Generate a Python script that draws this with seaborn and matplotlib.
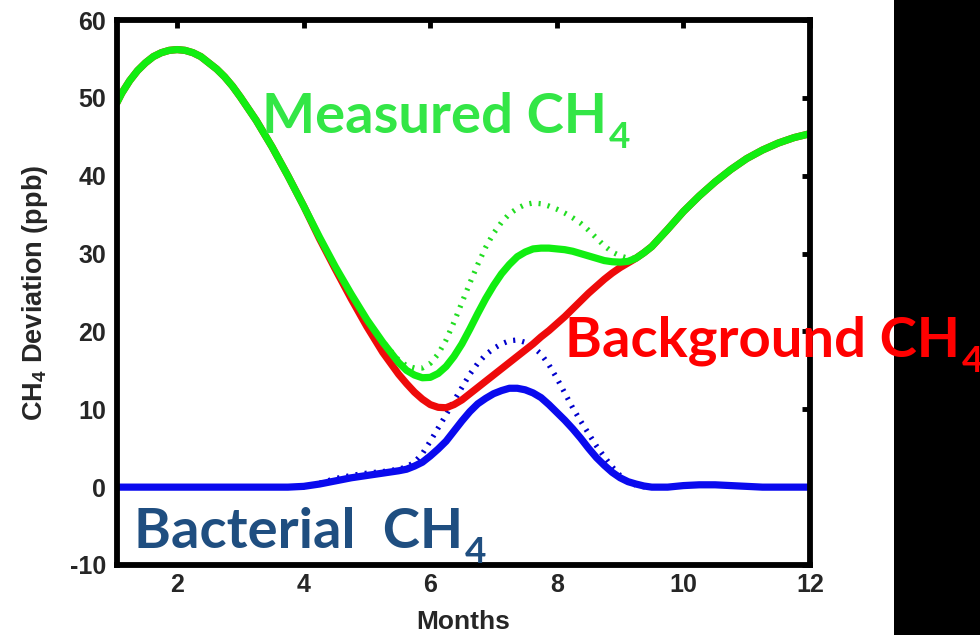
import matplotlib
matplotlib.use("Agg")
import matplotlib.pyplot as plt
from matplotlib.patches import Rectangle
import pandas as pd
import seaborn as sns

# Month positions shared by all series (denser where the curves bend)
months = [1.05, 1.125, 1.25, 1.375, 1.5, 1.625, 1.75, 1.875, 2.0, 2.125, 2.25, 2.375,
          2.5, 2.625, 2.75, 2.875, 3.0,
          3.25, 3.5, 3.75, 4.0, 4.25, 4.5, 4.75, 5.0, 5.25,
          5.5, 5.625, 5.75, 5.875, 6.0, 6.125, 6.25, 6.375, 6.5, 6.625, 6.75, 6.875,
          7.0, 7.125, 7.25, 7.375, 7.5, 7.625, 7.75, 7.875, 8.0, 8.125, 8.25, 8.375,
          8.5, 8.625, 8.75, 8.875, 9.0, 9.125, 9.25, 9.375, 9.5,
          9.75, 10.0, 10.25, 10.5, 10.75, 11.0, 11.25, 11.5, 11.75, 12.0]

# Measured CH4 (solid green)
measured = [49.4, 50.6, 52.2, 53.5, 54.5, 55.3, 55.8, 56.1, 56.2, 56.1, 55.8, 55.3,
            54.5, 53.7, 52.7, 51.5, 50.1,
            47.1, 43.7, 40.0, 36.1, 32.1, 28.3, 24.8, 21.5, 18.6,
            16.0, 15.0, 14.4, 14.05, 14.1, 14.6, 15.5, 16.8, 18.4, 20.3, 22.3, 24.2,
            25.9, 27.4, 28.6, 29.6, 30.2, 30.6, 30.7, 30.7, 30.6, 30.5, 30.3, 30.0,
            29.7, 29.4, 29.1, 28.95, 28.9, 29.0, 29.4, 30.1, 30.9,
            33.1, 35.4, 37.4, 39.2, 40.8, 42.2, 43.3, 44.2, 44.9, 45.4]

# Measured CH4, dotted variant
measured_dotted = [49.4, 50.6, 52.2, 53.5, 54.5, 55.3, 55.8, 56.1, 56.2, 56.1, 55.8, 55.3,
                   54.5, 53.7, 52.7, 51.5, 50.1,
                   47.1, 43.7, 40.0, 36.1, 32.1, 28.3, 24.8, 21.5, 18.7,
                   16.3, 15.6, 15.3, 15.3, 15.9, 17.1, 18.9, 21.2, 23.7, 26.2, 28.6, 30.8,
                   32.6, 34.0, 35.1, 35.8, 36.3, 36.5, 36.4, 36.1, 35.7, 35.2, 34.6, 33.9,
                   33.0, 32.0, 31.0, 30.2, 29.7, 29.4, 29.4, 30.1, 30.9,
                   33.1, 35.4, 37.4, 39.2, 40.8, 42.2, 43.3, 44.2, 44.9, 45.4]

# Background CH4 (red)
background = [49.4, 50.6, 52.2, 53.5, 54.5, 55.3, 55.8, 56.1, 56.2, 56.1, 55.8, 55.3,
              54.5, 53.7, 52.7, 51.5, 50.1,
              47.1, 43.7, 40.0, 36.1, 31.9, 28.0, 24.2, 20.6, 17.3,
              14.5, 13.3, 12.2, 11.3, 10.6, 10.25, 10.2, 10.6, 11.2, 12.0, 12.8, 13.6,
              14.4, 15.2, 16.0, 16.8, 17.6, 18.4, 19.3, 20.1, 21.0, 21.9, 22.9, 23.9,
              24.9, 25.8, 26.7, 27.5, 28.2, 28.8, 29.4, 30.1, 30.9,
              33.1, 35.4, 37.4, 39.2, 40.8, 42.2, 43.3, 44.2, 44.9, 45.4]

# Bacterial CH4 (solid blue)
bacterial = [0.0, 0.0, 0.0, 0.0, 0.0, 0.0, 0.0, 0.0, 0.0, 0.0, 0.0, 0.0,
             0.0, 0.0, 0.0, 0.0, 0.0,
             0.0, 0.0, 0.0, 0.1, 0.4, 0.8, 1.2, 1.5, 1.8,
             2.1, 2.3, 2.7, 3.2, 4.0, 4.9, 5.9, 7.2, 8.5, 9.7, 10.7, 11.4,
             12.0, 12.4, 12.7, 12.7, 12.5, 12.1, 11.5, 10.6, 9.6, 8.6, 7.5, 6.3,
             5.0, 3.8, 2.8, 1.9, 1.2, 0.7, 0.4, 0.15, 0.0,
             0.0, 0.2, 0.3, 0.3, 0.2, 0.1, 0.0, 0.0, 0.0, 0.0]

# Bacterial CH4, dotted variant
bacterial_dotted = [0.0, 0.0, 0.0, 0.0, 0.0, 0.0, 0.0, 0.0, 0.0, 0.0, 0.0, 0.0,
                    0.0, 0.0, 0.0, 0.0, 0.0,
                    0.0, 0.0, 0.0, 0.0, 0.5, 1.1, 1.5, 1.8, 2.0,
                    2.3, 2.6, 3.2, 4.3, 5.9, 7.6, 9.3, 11.1, 12.8, 14.5, 15.9, 17.0,
                    17.8, 18.4, 18.8, 18.9, 18.6, 18.0, 17.1, 15.7, 14.0, 12.1, 10.2, 8.5,
                    6.9, 5.3, 3.9, 2.6, 1.5, 0.7, 0.25, 0.05, 0.0,
                    0.0, 0.2, 0.3, 0.3, 0.2, 0.1, 0.0, 0.0, 0.0, 0.0]

x_ticks = [2, 4, 6, 8, 10, 12]
y_ticks = [-10, 0, 10, 20, 30, 40, 50, 60]

df = pd.DataFrame({
    "month": months,
    "measured": measured,
    "measured_dotted": measured_dotted,
    "background": background,
    "bacterial": bacterial,
    "bacterial_dotted": bacterial_dotted,
})

sns.set_style("white")
plt.rcParams["font.family"] = ["Liberation Sans", "DejaVu Sans"]
plt.rcParams["font.weight"] = "bold"

W, H = 980, 635
fig = plt.figure(figsize=(W / 100, H / 100), dpi=100)
fig.patch.set_facecolor("white")

# black panel on the right edge
fig.add_artist(Rectangle((894 / W, 0), 1, 1, transform=fig.transFigure,
                         facecolor="black", edgecolor="none", zorder=0))

ax = fig.add_axes([117 / W, 1 - 565 / H, (810 - 117) / W, (565 - 20) / H])
ax.set_facecolor("white")

dot = (0, (0.4, 1.35))
sns.lineplot(data=df, x="month", y="bacterial_dotted", ax=ax, color="#0000cc",
             linewidth=3.8, linestyle=dot, dash_capstyle="butt", zorder=2)
sns.lineplot(data=df, x="month", y="bacterial", ax=ax, color="#0a0aee",
             linewidth=5.2, zorder=3)
sns.lineplot(data=df, x="month", y="measured_dotted", ax=ax, color="#22dd22",
             linewidth=3.8, linestyle=dot, dash_capstyle="butt", zorder=2)
sns.lineplot(data=df, x="month", y="background", ax=ax, color="#ee0a0a",
             linewidth=5.2, zorder=3)
sns.lineplot(data=df, x="month", y="measured", ax=ax, color="#11ee11",
             linewidth=5.2, zorder=4)

ax.set_xlim(1.05, 12)
ax.set_ylim(-10, 60)
ax.set_xticks(x_ticks)
ax.set_yticks(y_ticks)
ax.set_xticklabels([str(t) for t in x_ticks])
ax.set_yticklabels([str(t) for t in y_ticks])
ax.tick_params(direction="in", length=6, width=3.5, top=True, right=True,
               labelsize=18, color="black")
ax.tick_params(axis="x", pad=6)
ax.tick_params(axis="y", pad=8)
for lab in ax.get_xticklabels() + ax.get_yticklabels():
    lab.set_fontweight("bold")
for s in ax.spines.values():
    s.set_linewidth(4.2)
    s.set_color("black")
    s.set_zorder(6)

ax.set_xlabel("Months", fontsize=19, fontweight="bold", labelpad=9)
ax.set_ylabel(r"CH$_\mathregular{4}$ Deviation (ppb)", fontsize=19.5,
              fontweight="bold", labelpad=14)

# Series annotations with a hand-placed subscript
ann_font = ["Lato", "DejaVu Sans"]
renderer = fig.canvas.get_renderer()


def series_label(x_px, base_px, text, color):
    t = fig.text(x_px / W, 1 - base_px / H, text, color=color, fontsize=40.5,
                 fontweight="bold", family=ann_font, va="baseline", zorder=10)
    bb = t.get_window_extent(renderer)
    fig.text((bb.x1 + 2) / W, 1 - (base_px + 15) / H, "4", color=color,
             fontsize=26.5, fontweight="bold", family=ann_font, va="baseline",
             zorder=10)


series_label(262, 133, "Measured CH", "#33e646")
series_label(565, 357, "Background CH", "#ff0000")
series_label(134, 548, "Bacterial  CH", "#1f4e80")

fig.savefig("out.png", dpi=100)
